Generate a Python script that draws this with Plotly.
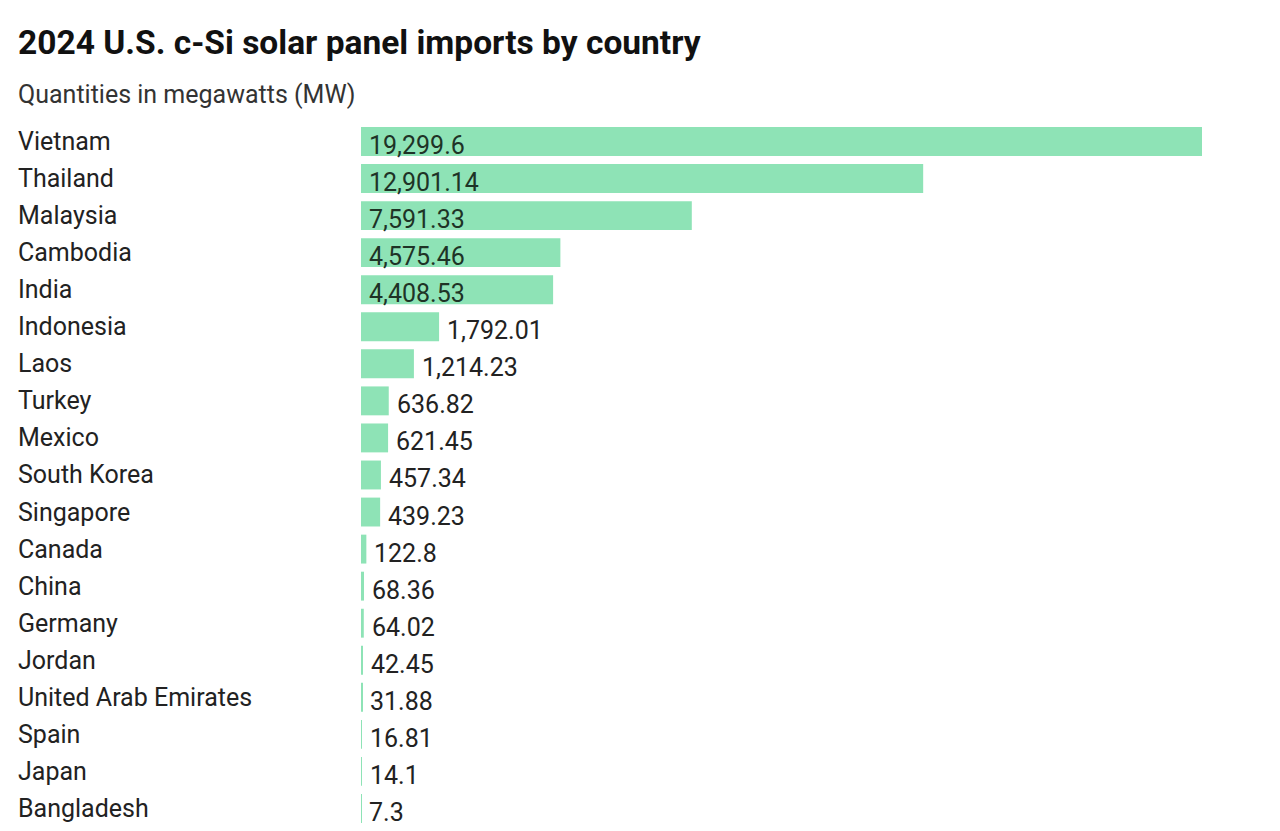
import plotly.graph_objects as go

countries = ["Vietnam", "Thailand", "Malaysia", "Cambodia", "India", "Indonesia",
             "Laos", "Turkey", "Mexico", "South Korea", "Singapore", "Canada",
             "China", "Germany", "Jordan", "United Arab Emirates", "Spain",
             "Japan", "Bangladesh"]
megawatts = [19299.6, 12901.14, 7591.33, 4575.46, 4408.53, 1792.01, 1214.23,
             636.82, 621.45, 457.34, 439.23, 122.8, 68.36, 64.02, 42.45, 31.88,
             16.81, 14.1, 7.3]
value_labels = ["19,299.6", "12,901.14", "7,591.33", "4,575.46", "4,408.53",
                "1,792.01", "1,214.23", "636.82", "621.45", "457.34", "439.23",
                "122.8", "68.36", "64.02", "42.45", "31.88", "16.81", "14.1", "7.3"]

W, H = 1280, 831
# the page adds an 8px body margin, so pixel targets are offset by 8
OFF = 8
left, right = 361 - OFF, 1202 - OFF
top, bottom = 121 - OFF, 827 - OFF
text_x = 16 - OFF
FS = 25

fig = go.Figure()
fig.add_trace(go.Bar(
    x=megawatts,
    y=countries,
    orientation="h",
    marker=dict(color="#8ee3b6", line=dict(width=0)),
    cliponaxis=False,
    hoverinfo="skip",
))

# value labels: inside the bar at its start when they fit, else after the bar end
px_per_mw = (right - left) / max(megawatts)
for c, v, t in zip(countries, megawatts, value_labels):
    inside = v * px_per_mw > 0.56 * FS * len(t) + 14
    fig.add_annotation(
        x=0 if inside else v, xref="x", xanchor="left", xshift=6,
        y=c, yref="y", yanchor="middle", yshift=-4,
        text=t, showarrow=False,
        font=dict(family="Roboto", size=FS,
                  color="#1e3326" if inside else "#222222"),
    )

xp = (text_x - left) / (right - left)

# country names, left aligned at the page edge
for c in countries:
    fig.add_annotation(
        x=xp, xref="paper", xanchor="left",
        y=c, yref="y", yanchor="middle",
        text=c, showarrow=False,
        font=dict(family="Roboto", size=FS, color="#222222"),
    )

fig.add_annotation(
    x=xp, xref="paper", xanchor="left",
    y=1 + (top - (43 - OFF)) / (bottom - top), yref="paper", yanchor="middle",
    text="<b>2024 U.S. c-Si solar panel imports by country</b>", showarrow=False,
    font=dict(family="Roboto", size=33.5, color="#111111"),
)
fig.add_annotation(
    x=xp, xref="paper", xanchor="left",
    y=1 + (top - (94 - OFF)) / (bottom - top), yref="paper", yanchor="middle",
    text="Quantities in megawatts (MW)", showarrow=False,
    font=dict(family="Roboto", size=FS, color="#333333"),
)

fig.update_layout(
    width=W, height=H,
    margin=dict(l=left, r=W - right, t=top, b=H - bottom),
    paper_bgcolor="white", plot_bgcolor="white",
    bargap=0.22,
    showlegend=False,
)
fig.update_xaxes(range=[0, max(megawatts)], visible=False, fixedrange=True)
fig.update_yaxes(autorange="reversed", showticklabels=False, showgrid=False,
                 zeroline=False, fixedrange=True)

fig.write_html("out.html", config={"displayModeBar": False})
